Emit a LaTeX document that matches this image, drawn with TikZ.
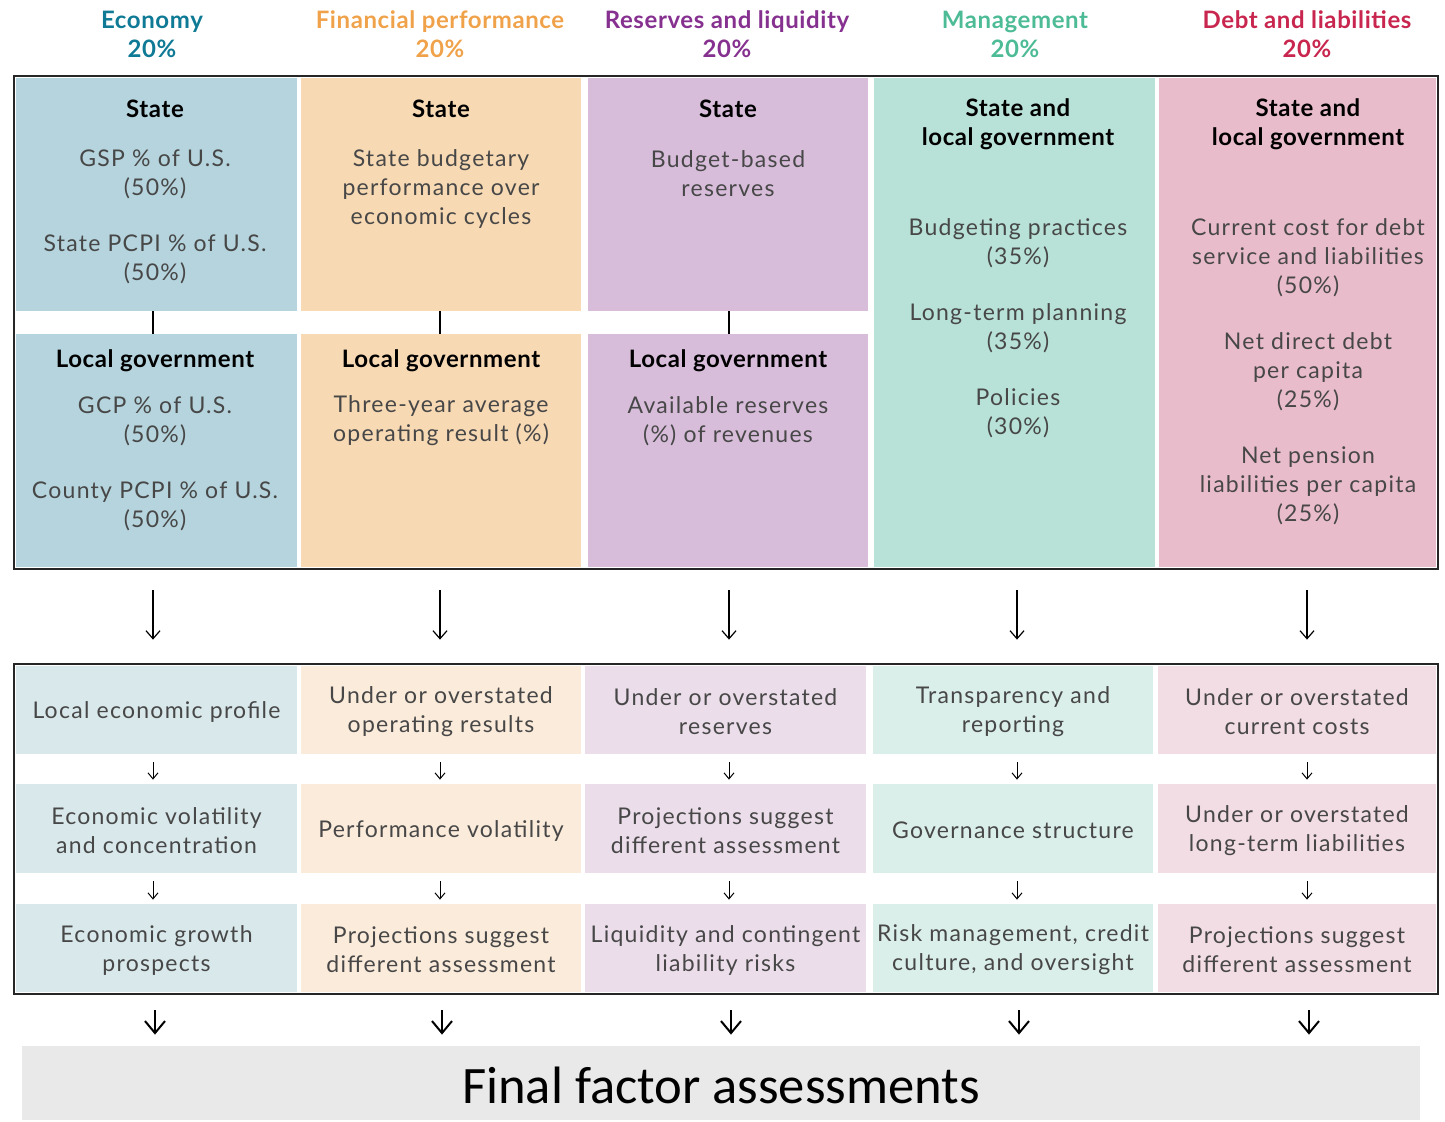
\documentclass[tikz,border=0pt]{standalone}
\usepackage{fontspec}
\setmainfont{Lato}[LetterSpace=2.5]
\newfontfamily\bodyfont{Lato}[LetterSpace=5.5]
\newfontfamily\calib{Carlito}
\usetikzlibrary{fit,arrows.meta}

\definecolor{ecoA}{HTML}{B5D4DD}
\definecolor{ecoB}{HTML}{D9E8EB}
\definecolor{ecoT}{HTML}{0F7A95}
\definecolor{finA}{HTML}{F7D9B4}
\definecolor{finB}{HTML}{FBEBDB}
\definecolor{finT}{HTML}{F0A24A}
\definecolor{resA}{HTML}{D8BDDB}
\definecolor{resB}{HTML}{EBDDEA}
\definecolor{resT}{HTML}{86308F}
\definecolor{manA}{HTML}{B8E1D7}
\definecolor{manB}{HTML}{DBEFEA}
\definecolor{manT}{HTML}{4DBB95}
\definecolor{debA}{HTML}{E9BCCB}
\definecolor{debB}{HTML}{F3DDE4}
\definecolor{debT}{HTML}{C8264F}
\definecolor{finalgray}{HTML}{E9E9E9}

\tikzset{
  cell/.style={inner sep=0pt, draw=none},
  frame/.style={inner sep=0pt, draw=black!85, line width=1pt},
  title/.style={font=\fontsize{12}{14.5}\selectfont\bfseries, align=center},
  head/.style={font=\fontsize{12}{14.5}\selectfont\bfseries, align=center},
  body/.style={font=\bodyfont\fontsize{11.5}{14.5}\selectfont, text=black!72, align=center},
  link/.style={line width=0.6pt},
  flow/.style={-{Straight Barb[length=4pt,width=7pt]}, line width=0.6pt,
    shorten <=11.5pt, shorten >=13pt},
  step down/.style={-{Straight Barb[length=3pt,width=5pt]}, line width=0.5pt,
    shorten <=4pt, shorten >=2pt},
  result/.style={-{Straight Barb[length=6pt,width=10pt]}, line width=1pt,
    shorten <=9pt, shorten >=5.5pt}
}

\begin{document}
\begin{tikzpicture}[x=0.5pt,y=-0.5pt]
  \useasboundingbox (0,0) rectangle (1445,1121);

  % factor titles
  \node[title, text=ecoT] (t1) at (152,34.5) {Economy\\20\%};
  \node[title, text=finT] (t2) at (440,34.5) {Financial performance\\20\%};
  \node[title, text=resT] (t3) at (727,34.5) {Reserves and liquidity\\20\%};
  \node[title, text=manT] (t4) at (1015,34.5) {Management\\20\%};
  \node[title, text=debT] (t5) at (1307,34.5) {Debt and liabilities\\20\%};

  % arrow columns
  \foreach \c/\x in {1/153, 2/440, 3/729, 4/1017, 5/1307}
    \coordinate (ax\c) at (\x,0);

  % upper block
  \node[cell, fill=ecoA, fit={(16,78) (297,311)}] (s1) {};
  \node[cell, fill=ecoA, fit={(16,334) (297,567)}] (l1) {};
  \node[cell, fill=finA, fit={(301,78) (581,311)}] (s2) {};
  \node[cell, fill=finA, fit={(301,334) (581,567)}] (l2) {};
  \node[cell, fill=resA, fit={(588,78) (868,311)}] (s3) {};
  \node[cell, fill=resA, fit={(588,334) (868,567)}] (l3) {};
  \node[cell, fill=manA, fit={(874,78) (1155,567)}] (l4) {};
  \node[cell, fill=debA, fit={(1159,78) (1436,567)}] (l5) {};
  \node[frame, fit={(14,76) (1438,569)}] (upper) {};

  \foreach \c in {1,2,3}
    \draw[link] (s\c.south -| ax\c) -- (l\c.north -| ax\c);

  \node[head] (st1) at (155,109) {State};
  \node[body] (g1a) at (155,174) {GSP \% of U.S.\\(50\%)};
  \node[body] (g1b) at (155,259) {State PCPI \% of U.S.\\(50\%)};
  \node[head] (lg1) at (155,361) {Local government};
  \node[body] (g1c) at (155,421) {GCP \% of U.S.\\(50\%)};
  \node[body] (g1d) at (155,506) {County PCPI \% of U.S.\\(50\%)};

  \node[head] (st2) at (441,109) {State};
  \node[body] (g2a) at (441,189) {State budgetary\\performance over\\economic cycles};
  \node[head] (lg2) at (441,361) {Local government};
  \node[body] (g2b) at (441,421) {Three-year average\\operating result (\%)};

  \node[head] (st3) at (728,109) {State};
  \node[body] (g3a) at (728,174) {Budget-based\\reserves};
  \node[head] (lg3) at (728,361) {Local government};
  \node[body] (g3b) at (728,421) {Available reserves\\(\%) of revenues};

  \node[head] (st4) at (1018,124) {State and\\local government};
  \node[body] (g4a) at (1018,243) {Budgeting practices\\(35\%)};
  \node[body] (g4b) at (1018,328) {Long-term planning\\(35\%)};
  \node[body] (g4c) at (1018,413) {Policies\\(30\%)};

  \node[head] (st5) at (1308,124) {State and\\local government};
  \node[body] (g5a) at (1308,258) {Current cost for debt\\service and liabilities\\(50\%)};
  \node[body] (g5b) at (1308,372) {Net direct debt\\per capita\\(25\%)};
  \node[body] (g5c) at (1308,486) {Net pension\\liabilities per capita\\(25\%)};

  % lower block
  \foreach \c/\xa/\xb/\col in {1/16/297/ecoB, 2/301/581/finB, 3/585/866/resB,
                               4/873/1153/manB, 5/1158/1436/debB} {
    \node[cell, fill=\col, fit={(\xa,666) (\xb,754)}] (p\c) {};
    \node[cell, fill=\col, fit={(\xa,784) (\xb,873)}] (q\c) {};
    \node[cell, fill=\col, fit={(\xa,904) (\xb,992)}] (r\c) {};
  }
  \node[frame, fit={(14,664) (1438,994)}] (lower) {};

  \node[body] (tp1) at ([yshift=-1pt]p1) {Local economic profile};
  \node[body] (tq1) at ([yshift=-1pt]q1) {Economic volatility\\and concentration};
  \node[body] (tr1) at ([yshift=-1pt]r1) {Economic growth\\prospects};
  \node[body] (tp2) at ([yshift=-1pt]p2) {Under or overstated\\operating results};
  \node[body] (tq2) at ([yshift=-1pt]q2) {Performance volatility};
  \node[body] (tr2) at ([yshift=-1pt]r2) {Projections suggest\\different assessment};
  \node[body] (tp3) at ([yshift=-1pt]p3) {Under or overstated\\reserves};
  \node[body] (tq3) at ([yshift=-1pt]q3) {Projections suggest\\different assessment};
  \node[body] (tr3) at ([yshift=-1pt]r3) {Liquidity and contingent\\liability risks};
  \node[body] (tp4) at ([yshift=-1pt]p4) {Transparency and\\reporting};
  \node[body] (tq4) at ([yshift=-1pt]q4) {Governance structure};
  \node[body] (tr4) at ([yshift=-1pt]r4) {Risk management, credit\\culture, and oversight};
  \node[body] (tp5) at ([yshift=-1pt]p5) {Under or overstated\\current costs};
  \node[body] (tq5) at ([yshift=-1pt]q5) {Under or overstated\\long-term liabilities};
  \node[body] (tr5) at ([yshift=-1pt]r5) {Projections suggest\\different assessment};

  % final box
  \node[cell, fill=finalgray, fit={(22,1046) (1420,1120)}] (fin) {};
  \node[font=\calib\fontsize{26.3}{30}\selectfont] (fint) at ([yshift=-1pt]fin) {Final factor assessments};

  % arrows
  \foreach \c in {1,...,5} {
    \draw[flow] (l\c.south -| ax\c) -- (p\c.north -| ax\c);
    \draw[step down] (p\c.south -| ax\c) -- (q\c.north -| ax\c);
    \draw[step down] (q\c.south -| ax\c) -- (r\c.north -| ax\c);
    \draw[result] ([xshift=1pt]r\c.south -| ax\c) -- ([xshift=1pt]fin.north -| ax\c);
  }
\end{tikzpicture}
\end{document}
